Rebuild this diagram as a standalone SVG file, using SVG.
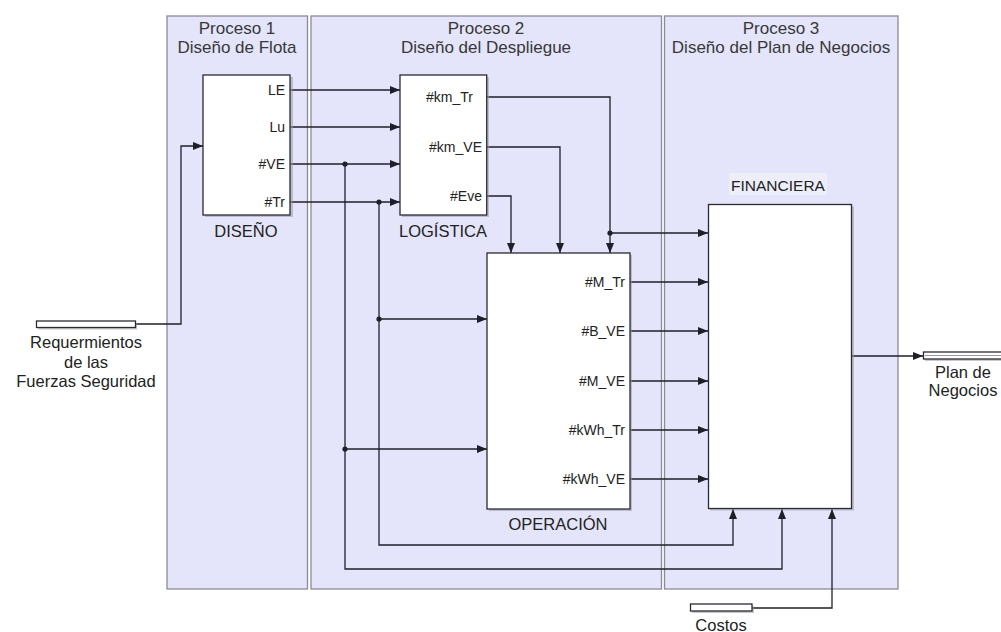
<svg xmlns="http://www.w3.org/2000/svg" width="1001" height="632" viewBox="0 0 1001 632">
<style>
.panel{fill:#e4e4fa;stroke:#8a8a98;stroke-width:1.3}
.blk{fill:#ffffff;stroke:#2a2a33;stroke-width:1.3}
.shd{fill:#9a9aa6;opacity:0.55}
.t{font-family:"Liberation Sans",Arial,sans-serif;fill:#222;}
.title{font-size:17px;text-anchor:middle;fill:#383838}
.lbl{font-size:16.5px;text-anchor:middle}
.port{font-size:14px;text-anchor:end}
.c{fill:none;stroke:#1f1f2a;stroke-width:1.3}
.dot{fill:#1f1f2a}
</style>
<defs>
<marker id="ah" viewBox="0 0 10 10" refX="10" refY="5" markerWidth="10" markerHeight="10" markerUnits="userSpaceOnUse" orient="auto">
<path d="M0,1 L10,5 L0,9 Z" fill="#1f1f2a"/>
</marker>
</defs>
<rect width="1001" height="632" fill="#ffffff"/>
<g id="panel1">
<rect class="panel" x="167" y="16" width="140.5" height="573"/>
<text class="t title" x="237" y="34">Proceso 1</text>
<text class="t title" x="237" y="53">Diseño de Flota</text>
</g>
<g id="panel2">
<rect class="panel" x="311" y="16" width="350.5" height="573"/>
<text class="t title" x="486" y="34">Proceso 2</text>
<text class="t title" x="486" y="53">Diseño del Despliegue</text>
</g>
<g id="panel3">
<rect class="panel" x="664.5" y="16" width="233.5" height="573"/>
<text class="t title" x="781" y="34">Proceso 3</text>
<text class="t title" x="781" y="53">Diseño del Plan de Negocios</text>
</g>
<g id="connectors">
<polyline class="c" points="136,324 181,324 181,146 203,146" marker-end="url(#ah)"/>
<line class="c" x1="290" y1="90" x2="400" y2="90" marker-end="url(#ah)"/>
<line class="c" x1="290" y1="127" x2="400" y2="127" marker-end="url(#ah)"/>
<line class="c" x1="290" y1="164" x2="400" y2="164" marker-end="url(#ah)"/>
<line class="c" x1="290" y1="202" x2="400" y2="202" marker-end="url(#ah)"/>
<polyline class="c" points="487,97 610,97 610,253" marker-end="url(#ah)"/>
<polyline class="c" points="610,233 708,233" marker-end="url(#ah)"/>
<polyline class="c" points="487,147 560,147 560,253" marker-end="url(#ah)"/>
<polyline class="c" points="487,196 511,196 511,253" marker-end="url(#ah)"/>
<polyline class="c" points="379,202 379,545 733,545 733,509" marker-end="url(#ah)"/>
<polyline class="c" points="379,319 487,319" marker-end="url(#ah)"/>
<polyline class="c" points="345,164 345,569 782,569 782,509" marker-end="url(#ah)"/>
<polyline class="c" points="345,449 487,449" marker-end="url(#ah)"/>
<line class="c" x1="630" y1="282" x2="708" y2="282" marker-end="url(#ah)"/>
<line class="c" x1="630" y1="331" x2="708" y2="331" marker-end="url(#ah)"/>
<line class="c" x1="630" y1="381" x2="708" y2="381" marker-end="url(#ah)"/>
<line class="c" x1="630" y1="430" x2="708" y2="430" marker-end="url(#ah)"/>
<line class="c" x1="630" y1="479" x2="708" y2="479" marker-end="url(#ah)"/>
<line class="c" x1="852" y1="356" x2="923" y2="356" marker-end="url(#ah)"/>
<polyline class="c" points="752,608 832,608 832,509" marker-end="url(#ah)"/>
<circle class="dot" cx="345" cy="164" r="2.6"/>
<circle class="dot" cx="379" cy="202" r="2.6"/>
<circle class="dot" cx="610" cy="233" r="2.6"/>
<circle class="dot" cx="379" cy="319" r="2.6"/>
<circle class="dot" cx="345" cy="449" r="2.6"/>
</g>
<g id="diseno">
<rect class="shd" x="205" y="77" width="88" height="140"/>
<rect class="blk" x="203" y="75" width="87" height="140"/>
<text class="t port" x="285" y="95">LE</text>
<text class="t port" x="285" y="132">Lu</text>
<text class="t port" x="285" y="169">#VE</text>
<text class="t port" x="285" y="207">#Tr</text>
<text class="t lbl" x="246" y="237">DISEÑO</text>
</g>
<g id="logistica">
<rect class="shd" x="402" y="77" width="87" height="140"/>
<rect class="blk" x="400" y="75" width="86.7" height="140"/>
<text class="t port" x="473" y="102">#km_Tr</text>
<text class="t port" x="482" y="152">#km_VE</text>
<text class="t port" x="482" y="201">#Eve</text>
<text class="t lbl" x="443" y="237">LOGÍSTICA</text>
</g>
<g id="operacion">
<rect class="shd" x="489" y="255" width="143" height="256"/>
<rect class="blk" x="487" y="253" width="143" height="256"/>
<text class="t port" x="625" y="287">#M_Tr</text>
<text class="t port" x="625" y="336">#B_VE</text>
<text class="t port" x="625" y="386">#M_VE</text>
<text class="t port" x="625" y="435">#kWh_Tr</text>
<text class="t port" x="625" y="484">#kWh_VE</text>
<text class="t lbl" x="558" y="530">OPERACIÓN</text>
</g>
<g id="financiera">
<rect x="729" y="173" width="98" height="22" fill="#eeeefb"/>
<text class="t" x="778" y="191" font-size="15.5" text-anchor="middle">FINANCIERA</text>
<rect class="shd" x="710" y="206.5" width="144" height="304"/>
<rect class="blk" x="708.5" y="204.5" width="143" height="304"/>
</g>
<g id="requerimientos">
<rect class="shd" x="38" y="323" width="99" height="6.5"/>
<rect class="blk" x="36.5" y="321" width="99" height="6.5"/>
<text class="t lbl" x="86" y="348">Requermientos</text>
<text class="t lbl" x="86" y="368">de las</text>
<text class="t lbl" x="86" y="387">Fuerzas Seguridad</text>
</g>
<g id="plan">
<rect class="shd" x="925" y="354" width="80" height="7"/>
<rect class="blk" x="923.5" y="352" width="80" height="7"/>
<line x1="925" y1="355.5" x2="1001" y2="355.5" stroke="#9a9aa6" stroke-width="1"/>
<text class="t lbl" x="963" y="378">Plan de</text>
<text class="t lbl" x="963" y="396">Negocios</text>
</g>
<g id="costos">
<rect class="shd" x="692" y="606" width="62" height="7"/>
<rect class="blk" x="690.5" y="604" width="61.5" height="7"/>
<text class="t lbl" x="721" y="631">Costos</text>
</g>
</svg>
